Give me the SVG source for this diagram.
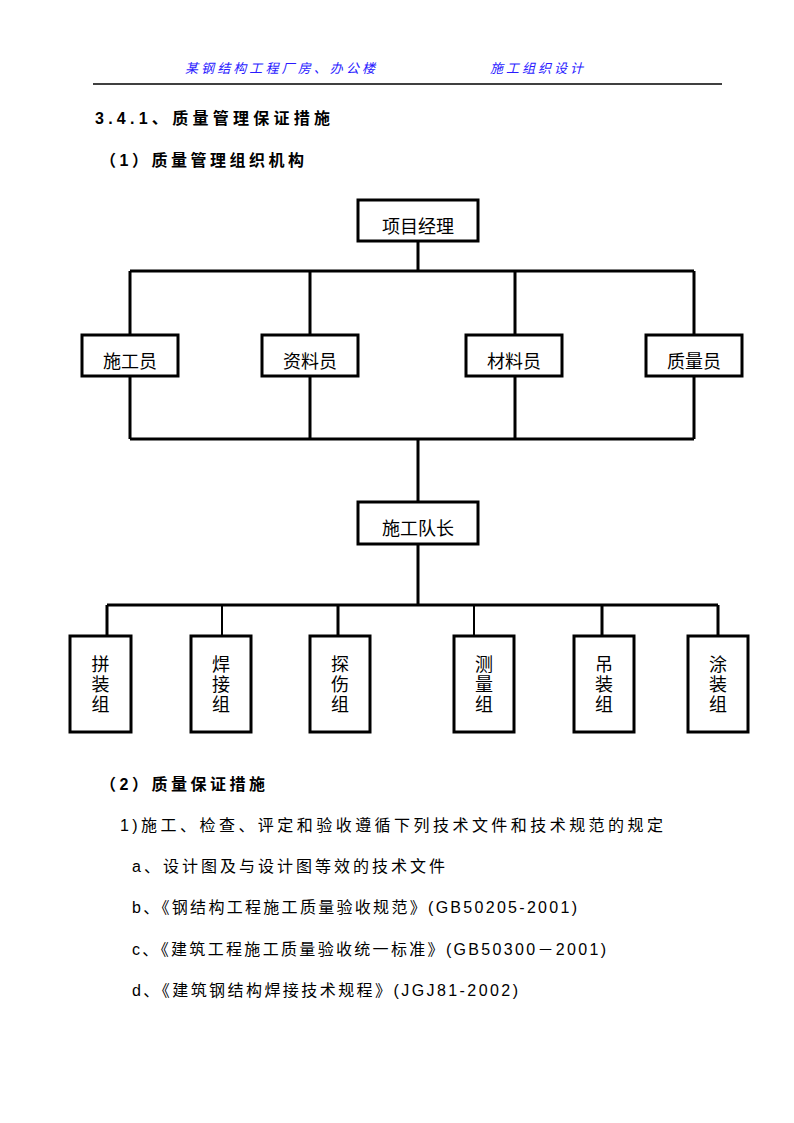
<svg xmlns="http://www.w3.org/2000/svg" width="794" height="1123" viewBox="0 0 794 1123">
<style>
.hdr{font-family:"Noto Sans CJK SC",sans-serif;font-size:13px;font-style:italic;fill:#2a1aff}
.h{font-family:"Liberation Sans","Noto Sans CJK SC",sans-serif;font-size:16px;font-weight:bold;fill:#000}
.t{font-family:"Liberation Sans","Noto Sans CJK SC",sans-serif;font-size:16px;fill:#000}
.box{fill:#fff;stroke:#000;stroke-width:3}
.lbl{font-family:"Noto Sans CJK SC",sans-serif;font-size:18px;fill:#000;text-anchor:middle}
.vl{font-family:"Noto Sans CJK SC",sans-serif;font-size:18px;fill:#000;text-anchor:middle;writing-mode:vertical-rl;letter-spacing:2px}
.ln{stroke:#000;stroke-width:3;fill:none}
</style>
<rect width="794" height="1123" fill="#fff"/>
<text class="hdr" x="185" y="73" textLength="190" lengthAdjust="spacing">某钢结构工程厂房、办公楼</text>
<text class="hdr" x="490" y="73" textLength="93" lengthAdjust="spacing">施工组织设计</text>
<line x1="93" y1="84" x2="722" y2="84" stroke="#000" stroke-width="1.5"/>
<text class="h" x="95" y="124" textLength="235" lengthAdjust="spacing">3.4.1、质量管理保证措施</text>
<text class="h" x="100" y="166" textLength="204" lengthAdjust="spacing">（1）质量管理组织机构</text>
<g id="connectors">
<path class="ln" d="M418 241V271M130 271H694M130 271V335M310 271V335M515 271V335M694 271V335"/>
<path class="ln" d="M130 376V439M310 376V439M515 376V439M694 376V439M130 439H694M418 439V502"/>
<path class="ln" d="M418 544V605M107 605H718M107 605V636M338 605V636M602 605V636M718 605V636"/>
<path stroke="#000" stroke-width="2" d="M222 605V636M474 605V636"/>
</g>
<g id="n-pm"><rect class="box" x="358" y="200" width="120" height="41"/><text class="lbl" x="418" y="233">项目经理</text></g>
<g id="n-sgy"><rect class="box" x="82" y="335" width="96" height="41"/><text class="lbl" x="130" y="368">施工员</text></g>
<g id="n-zly"><rect class="box" x="262" y="335" width="96" height="41"/><text class="lbl" x="310" y="368">资料员</text></g>
<g id="n-cly"><rect class="box" x="466" y="335" width="96" height="41"/><text class="lbl" x="514" y="368">材料员</text></g>
<g id="n-zly2"><rect class="box" x="646" y="335" width="96" height="41"/><text class="lbl" x="694" y="368">质量员</text></g>
<g id="n-dz"><rect class="box" x="358" y="502" width="120" height="42"/><text class="lbl" x="418" y="535">施工队长</text></g>
<g id="n-pz"><rect class="box" x="70" y="636" width="61" height="96"/><text class="vl" x="100.5" y="685">拼装组</text></g>
<g id="n-hj"><rect class="box" x="191" y="636" width="60" height="96"/><text class="vl" x="221" y="685">焊接组</text></g>
<g id="n-ts"><rect class="box" x="310" y="636" width="60" height="96"/><text class="vl" x="340" y="685">探伤组</text></g>
<g id="n-cl"><rect class="box" x="454" y="636" width="60" height="96"/><text class="vl" x="484" y="685">测量组</text></g>
<g id="n-dzz"><rect class="box" x="574" y="636" width="60" height="96"/><text class="vl" x="604" y="685">吊装组</text></g>
<g id="n-tz"><rect class="box" x="688" y="636" width="60" height="96"/><text class="vl" x="718" y="685">涂装组</text></g>
<text class="h" x="100" y="790" textLength="165" lengthAdjust="spacing">（2）质量保证措施</text>
<text class="t" x="120" y="831" textLength="543" lengthAdjust="spacing">1)施工、检查、评定和验收遵循下列技术文件和技术规范的规定</text>
<text class="t" x="132" y="872" textLength="313" lengthAdjust="spacing">a、设计图及与设计图等效的技术文件</text>
<text class="t" x="132" y="913" textLength="445" lengthAdjust="spacing">b、《钢结构工程施工质量验收规范》(GB50205-2001)</text>
<text class="t" x="132" y="955" textLength="474" lengthAdjust="spacing">c、《建筑工程施工质量验收统一标准》(GB50300－2001)</text>
<text class="t" x="132" y="996" textLength="386" lengthAdjust="spacing">d、《建筑钢结构焊接技术规程》(JGJ81-2002)</text>
</svg>
